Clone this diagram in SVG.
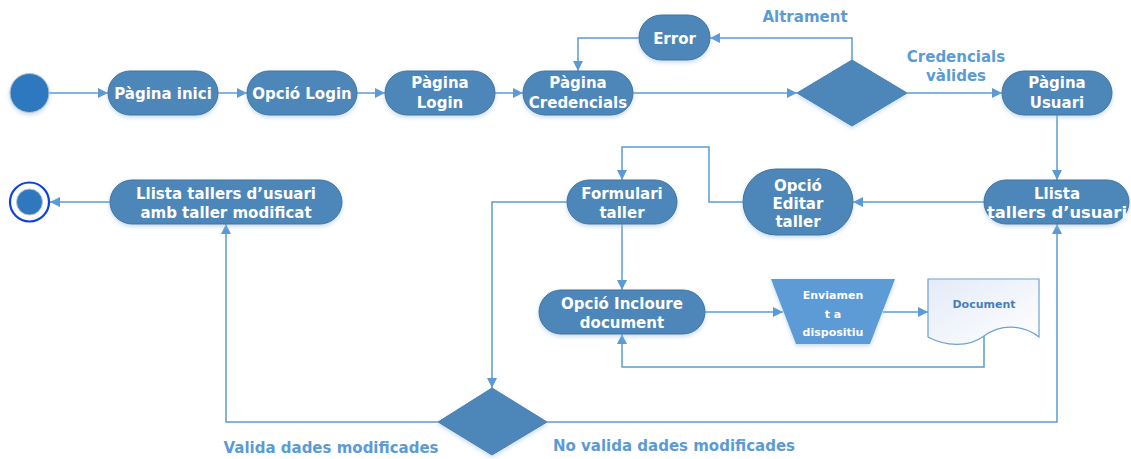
<svg xmlns="http://www.w3.org/2000/svg" width="1131" height="459" viewBox="0 0 1131 459">
<defs>
<style>
.node{fill:#4E86B9;stroke:#41719C;stroke-width:1;filter:url(#sh)}
.dia{fill:#4E86B9;stroke:#4A7EB0;stroke-width:1;filter:url(#sh)}
.t{font-family:"DejaVu Sans",Verdana,sans-serif;font-weight:bold;font-size:15px;fill:#ffffff;text-anchor:middle}
.ts{font-family:"DejaVu Sans",Verdana,sans-serif;font-weight:bold;font-size:11px;fill:#ffffff;text-anchor:middle}
.lbl{font-family:"DejaVu Sans",Verdana,sans-serif;font-weight:bold;font-size:15px;fill:#5B9BD5;text-anchor:middle}
.doct{font-family:"DejaVu Sans",Verdana,sans-serif;font-weight:bold;font-size:11px;fill:#4A7EBB;text-anchor:middle}
.c{fill:none;stroke:#5B9BD5;stroke-width:1.5;marker-end:url(#ah)}
</style>
<marker id="ah" viewBox="0 0 10 10" refX="10" refY="5" markerWidth="10" markerHeight="10" markerUnits="userSpaceOnUse" orient="auto">
<path d="M0,0 L10,5 L0,10 Z" fill="#5B9BD5"/>
</marker>
<filter id="sh" x="-20%" y="-20%" width="140%" height="150%">
<feDropShadow dx="0" dy="2" stdDeviation="2" flood-color="#9DC3E6" flood-opacity="0.6"/>
</filter>
<linearGradient id="dg" x1="0" y1="0" x2="1" y2="1">
<stop offset="0" stop-color="#E3EBF7"/>
<stop offset="1" stop-color="#FFFFFF"/>
</linearGradient>
</defs>
<rect width="1131" height="459" fill="#ffffff"/>

<g id="connectors">
<line class="c" x1="49" y1="93" x2="108" y2="93"/>
<line class="c" x1="218" y1="93" x2="247" y2="93"/>
<line class="c" x1="357" y1="93" x2="385" y2="93"/>
<line class="c" x1="495" y1="93" x2="523" y2="93"/>
<line class="c" x1="633" y1="93" x2="797" y2="93"/>
<polyline class="c" points="852,60 852,38 710,38"/>
<polyline class="c" points="639,38 578,38 578,71"/>
<line class="c" x1="907" y1="93" x2="1002" y2="93"/>
<line class="c" x1="1057" y1="115" x2="1057" y2="180"/>
<line class="c" x1="984" y1="202" x2="853" y2="202"/>
<polyline class="c" points="743,202 709,202 709,147 622,147 622,180"/>
<polyline class="c" points="567,202 492,202 492,388"/>
<line class="c" x1="622" y1="224" x2="622" y2="290"/>
<line class="c" x1="705" y1="312" x2="783" y2="312"/>
<line class="c" x1="883" y1="312" x2="928" y2="312"/>
<polyline class="c" points="984,336 984,367 622,367 622,334"/>
<polyline class="c" points="438,422 226,422 226,224"/>
<polyline class="c" points="547,422 1057,422 1057,224"/>
<line class="c" x1="110" y1="202" x2="50" y2="202"/>
</g>

<g id="start">
<circle cx="29.5" cy="93" r="19.5" fill="#2F78BF" stroke="#B9C3CF" stroke-width="1" filter="url(#sh)"/>
</g>

<g id="pagina-inici">
<rect class="node" x="108" y="71" width="110" height="44" rx="22"/>
<text class="t" x="163" y="98.5">Pàgina inici</text>
</g>

<g id="opcio-login">
<rect class="node" x="247" y="71" width="110" height="44" rx="22"/>
<text class="t" x="302" y="98.5">Opció Login</text>
</g>

<g id="pagina-login">
<rect class="node" x="385" y="71" width="110" height="44" rx="22"/>
<text class="t" x="440" y="88">Pàgina</text>
<text class="t" x="440" y="107.5">Login</text>
</g>

<g id="pagina-credencials">
<rect class="node" x="523" y="71" width="110" height="44" rx="22"/>
<text class="t" x="578" y="88">Pàgina</text>
<text class="t" x="578" y="107.5">Credencials</text>
</g>

<g id="error">
<rect class="node" x="639" y="15" width="71" height="45" rx="22.5"/>
<text class="t" x="674.5" y="43.5">Error</text>
</g>

<g id="decisio-credencials">
<polygon class="dia" points="852,60 907,93 852,126 797,93"/>
</g>

<g id="labels">
<text class="lbl" x="805" y="22">Altrament</text>
<text class="lbl" x="956" y="62">Credencials</text>
<text class="lbl" x="956" y="81">vàlides</text>
<text class="lbl" x="331" y="453">Valida dades modificades</text>
<text class="lbl" x="674" y="451">No valida dades modificades</text>
</g>

<g id="pagina-usuari">
<rect class="node" x="1002" y="71" width="110" height="44" rx="22"/>
<text class="t" x="1057" y="88">Pàgina</text>
<text class="t" x="1057" y="107.5">Usuari</text>
</g>

<g id="llista-tallers">
<rect class="node" x="984" y="180" width="145" height="44" rx="22"/>
<text class="t" x="1057" y="198.5">Llista</text>
<text class="t" x="1057" y="217.5" textLength="140" lengthAdjust="spacingAndGlyphs">tallers d’usuari</text>
</g>

<g id="opcio-editar">
<rect class="node" x="743" y="169" width="110" height="66" rx="33"/>
<text class="t" x="798" y="190.5">Opció</text>
<text class="t" x="798" y="208.5">Editar</text>
<text class="t" x="798" y="226.5">taller</text>
</g>

<g id="formulari-taller">
<rect class="node" x="567" y="180" width="110" height="44" rx="22"/>
<text class="t" x="622" y="198.5">Formulari</text>
<text class="t" x="622" y="217.5">taller</text>
</g>

<g id="opcio-incloure">
<rect class="node" x="539" y="290" width="166" height="44" rx="22"/>
<text class="t" x="622" y="308.5">Opció Incloure</text>
<text class="t" x="622" y="327.5">document</text>
</g>

<g id="enviament">
<polygon points="771,279 895,279 870,344 796,344" fill="#5B9BD5" filter="url(#sh)"/>
<text class="ts" x="833" y="299">Enviamen</text>
<text class="ts" x="833" y="318">t a</text>
<text class="ts" x="833" y="336">dispositiu</text>
</g>

<g id="document">
<path d="M928,279 H1039 V337 C1022,324 1000,324 984,336 C968,348 945,346 928,337 Z" fill="url(#dg)" stroke="#6FA0D3" stroke-width="1.2"/>
<text class="doct" x="984" y="308">Document</text>
</g>

<g id="decisio-dades">
<polygon class="dia" points="492,388 547,422 492,455 438,422"/>
</g>

<g id="llista-modificat">
<rect class="node" x="110" y="180" width="232" height="44" rx="22"/>
<text class="t" x="226" y="198.5">Llista tallers d’usuari</text>
<text class="t" x="226" y="217.5">amb taller modificat</text>
</g>

<g id="end">
<circle cx="29.5" cy="202" r="19.5" fill="#ffffff" stroke="#0B3FE8" stroke-width="2.2"/>
<circle cx="29.5" cy="202" r="13" fill="#2F78BF" stroke="#B9C3CF" stroke-width="1"/>
</g>
</svg>
